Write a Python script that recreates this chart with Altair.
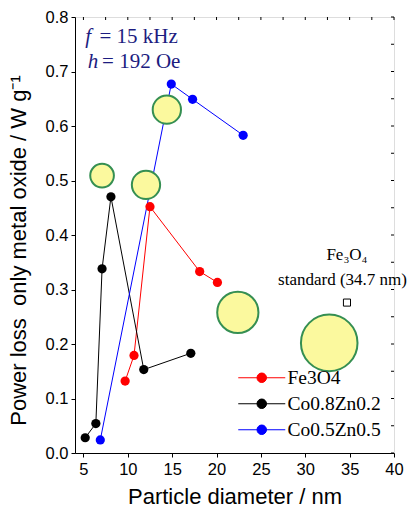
import altair as alt
import pandas as pd

# Series data
fe_x = [9.7, 10.7, 12.5, 18.1, 20.1]
fe_y = [0.132, 0.179, 0.452, 0.333, 0.313]
co82_x = [5.2, 6.4, 7.1, 8.1, 11.8, 17.1]
co82_y = [0.028, 0.054, 0.338, 0.470, 0.153, 0.183]
co55_x = [6.9, 14.9, 17.3, 23.0]
co55_y = [0.024, 0.677, 0.649, 0.583]

# Bubbles (yellow circles)
bub_x = [7.1, 12.05, 14.4, 22.4, 32.7]
bub_y = [0.509, 0.492, 0.630, 0.258, 0.202]
bub_size = [560, 800, 800, 1700, 3200]

# Standard reference point
std_x = [34.7]
std_y = [0.276]

series_names = ["Fe3O4", "Co0.8Zn0.2", "Co0.5Zn0.5"]
series_colors = ["#ff0000", "#000000", "#0000ff"]

rows = []
for name, xs, ys in [("Fe3O4", fe_x, fe_y), ("Co0.8Zn0.2", co82_x, co82_y), ("Co0.5Zn0.5", co55_x, co55_y)]:
    for i, (a, b) in enumerate(zip(xs, ys)):
        rows.append({"series": name, "d": a, "p": b, "order": i})
df = pd.DataFrame(rows)
bub = pd.DataFrame({"d": bub_x, "p": bub_y, "s": bub_size})
std = pd.DataFrame({"d": std_x, "p": std_y})

W, H = 319, 436
xscale = alt.Scale(domain=[4.05, 40], nice=False, zero=False)
yscale = alt.Scale(domain=[0, 0.8], nice=False)

xticks = [5 + 2.5 * i for i in range(15)]
yticks = [round(0.05 * i, 2) for i in range(17)]

x_axis = alt.Axis(values=xticks, labelExpr="datum.value % 5 == 0 ? format(datum.value, 'd') : ''",
                  title="Particle diameter / nm", tickSize=4, labelFontSize=16.5, titleFontSize=22,
                  labelFont="Liberation Sans", titleFont="Liberation Sans", titleFontWeight="normal",
                  labelColor="black", titleColor="black", domainColor="black", tickColor="black",
                  grid=False, labelPadding=4, titlePadding=9, labelFlush=False)
y_axis = alt.Axis(values=yticks,
                  labelExpr="abs(datum.value*10 - round(datum.value*10)) < 0.001 ? format(datum.value, '.1f') : ''",
                  title="Power loss\u00a0 only metal oxide / W g⁻¹", tickSize=4, labelFontSize=16.5, titleFontSize=22,
                  labelFont="Liberation Sans", titleFont="Liberation Sans", titleFontWeight="normal",
                  labelColor="black", titleColor="black", domainColor="black", tickColor="black",
                  grid=False, labelPadding=3, titleX=-57, titleY=233, titleBaseline="middle",
                  titleAlign="center", titleAngle=270, labelFlush=False)

# Legend symbol: short line with a dot in the middle
legend_path = "M-4.7,0H4.7M-0.95,0A0.95,0.95 0 1,1 0.95,0A0.95,0.95 0 1,1 -0.95,0Z"

color = alt.Color("series:N", scale=alt.Scale(domain=series_names, range=series_colors),
                  legend=alt.Legend(title=None, orient="none", legendX=177, legendY=351,
                                    symbolType=legend_path, symbolSize=100, symbolStrokeWidth=1,
                                    labelFont="Liberation Serif", labelFontSize=19.5, labelColor="black",
                                    labelLimit=300, rowPadding=5, labelOffset=16, padding=0))

lines = alt.Chart(df).mark_line(strokeWidth=1, clip=True).encode(
    x=alt.X("d:Q", scale=xscale, axis=x_axis),
    y=alt.Y("p:Q", scale=yscale, axis=y_axis),
    color=color,
    order="order:Q",
)
points = alt.Chart(df).mark_circle(size=85, opacity=1).encode(
    x="d:Q", y="p:Q",
    color=alt.Color("series:N", scale=alt.Scale(domain=series_names, range=series_colors), legend=None),
)
bubbles = alt.Chart(bub).mark_point(shape="circle", filled=False, fill="#fbf99e", fillOpacity=1,
                                   stroke="#358f52", strokeWidth=2, opacity=1).encode(
    x="d:Q", y="p:Q", size=alt.Size("s:Q", scale=None, legend=None)
)
stdpt = alt.Chart(std).mark_point(shape="square", size=50, filled=False, fill="white", fillOpacity=1,
                                 stroke="black", strokeWidth=1, opacity=1).encode(x="d:Q", y="p:Q")

# Annotations in data coordinates
ann_fe = pd.DataFrame({"d": [34.7], "p": [0.346], "t": ["Fe₃O₄"]})
ann_std = pd.DataFrame({"d": [34.2], "p": [0.301], "t": ["standard (34.7 nm)"]})
fe_text = alt.Chart(ann_fe).mark_text(font="Liberation Serif", fontSize=17, color="black",
                                      baseline="bottom").encode(x="d:Q", y="p:Q", text="t:N")
std_text = alt.Chart(ann_std).mark_text(font="Liberation Serif", fontSize=17, color="black",
                                        baseline="bottom").encode(x="d:Q", y="p:Q", text="t:N")

cond_sym = pd.DataFrame({"d": [5.2, 5.5], "p": [0.752, 0.706], "t": ["f", "h"]})
cond_val = pd.DataFrame({"d": [6.8, 7.1], "p": [0.752, 0.706], "t": ["= 15 kHz", "= 192 Oe"]})
sym_text = alt.Chart(cond_sym).mark_text(font="Liberation Serif", fontSize=21, fontStyle="italic",
                                         color="#1c1c80", align="left", baseline="alphabetic").encode(
    x="d:Q", y="p:Q", text="t:N")
val_text = alt.Chart(cond_val).mark_text(font="Liberation Serif", fontSize=21,
                                         color="#1c1c80", align="left", baseline="alphabetic").encode(
    x="d:Q", y="p:Q", text="t:N")

# Mirror ticks on top and right (inward)
top_ticks = alt.Chart(pd.DataFrame({"d": xticks})).mark_rule(color="black", strokeWidth=1).encode(
    x="d:Q", y=alt.value(0), y2=alt.value(3))
right_ticks = alt.Chart(pd.DataFrame({"p": yticks})).mark_rule(color="black", strokeWidth=1).encode(
    y="p:Q", x=alt.value(W), x2=alt.value(W - 3))

chart = alt.layer(lines, points, bubbles, stdpt, fe_text, std_text, sym_text, val_text,
                  top_ticks, right_ticks).properties(
    width=W, height=H,
    padding={"left": 75, "top": 17, "right": 18, "bottom": 58},
    autosize=alt.AutoSizeParams(type="none"),
).configure_view(stroke="black", strokeWidth=1).configure(background="white")

chart.save("out.html", embed_options={"renderer": "svg", "actions": False})
